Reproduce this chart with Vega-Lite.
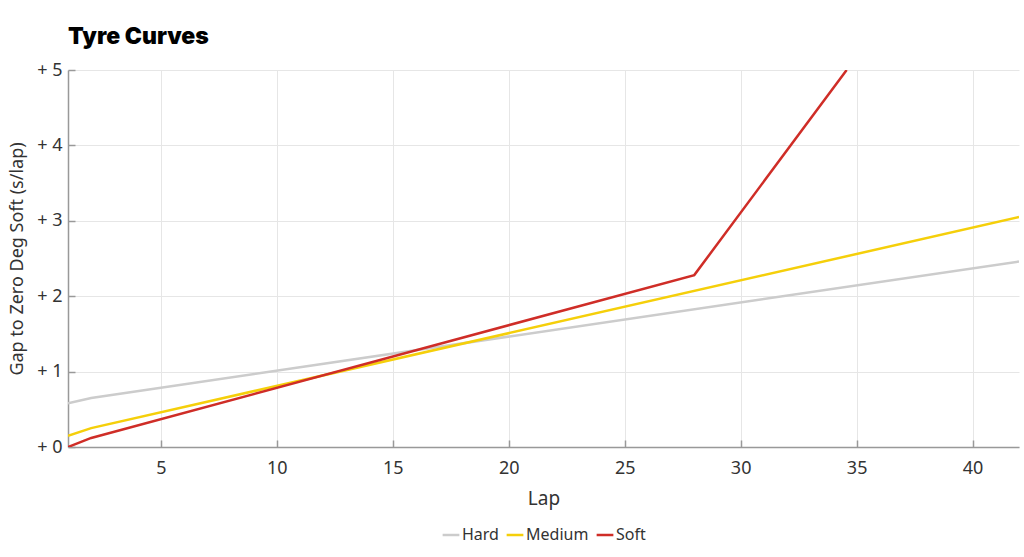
{
  "$schema": "https://vega.github.io/schema/vega-lite/v6.json",
  "autosize": "none",
  "width": 951,
  "height": 377,
  "padding": {"left": 68, "top": 70, "right": 5, "bottom": 110},
  "background": "white",
  "title": {
    "text": "Tyre Curves",
    "anchor": "start",
    "frame": "group",
    "font": "Inter",
    "fontSize": 23,
    "fontWeight": 900,
    "color": "#000000",
    "offset": 12
  },
  "data": {
    "values": [
      {"lap": 1, "gap": 0.58, "tyre": "Hard"},
      {"lap": 2, "gap": 0.65, "tyre": "Hard"},
      {"lap": 42, "gap": 2.46, "tyre": "Hard"},
      {"lap": 1, "gap": 0.15, "tyre": "Medium"},
      {"lap": 2, "gap": 0.25, "tyre": "Medium"},
      {"lap": 42, "gap": 3.05, "tyre": "Medium"},
      {"lap": 1, "gap": 0.0, "tyre": "Soft"},
      {"lap": 2, "gap": 0.12, "tyre": "Soft"},
      {"lap": 28, "gap": 2.28, "tyre": "Soft"},
      {"lap": 34.57, "gap": 5.0, "tyre": "Soft"}
    ]
  },
  "mark": {"type": "line", "strokeWidth": 2.5, "clip": true},
  "encoding": {
    "x": {
      "field": "lap",
      "type": "quantitative",
      "title": "Lap",
      "scale": {"domain": [1, 42], "nice": false, "zero": false},
      "axis": {
        "values": [5, 10, 15, 20, 25, 30, 35, 40],
        "tickSize": -7,
        "labelFontSize": 18,
        "titleFontSize": 19,
        "labelPadding": 19,
        "titlePadding": 12
      }
    },
    "y": {
      "field": "gap",
      "type": "quantitative",
      "title": "Gap to Zero Deg Soft (s/lap)",
      "scale": {"domain": [0, 5], "nice": false},
      "axis": {
        "values": [0, 1, 2, 3, 4, 5],
        "labelExpr": "'+ ' + datum.value",
        "tickSize": -7,
        "labelFontSize": 18,
        "titleFontSize": 18,
        "labelPadding": 13,
        "titlePadding": 10
      }
    },
    "color": {
      "field": "tyre",
      "type": "nominal",
      "title": null,
      "scale": {
        "domain": ["Hard", "Medium", "Soft"],
        "range": ["#cccccc", "#f5cf0a", "#cf2d27"]
      },
      "legend": {
        "orient": "none",
        "legendX": 373,
        "legendY": 455,
        "direction": "horizontal",
        "symbolType": "stroke",
        "symbolStrokeWidth": 2.5,
        "symbolSize": 280,
        "labelFontSize": 16,
        "labelFont": "Noto Sans",
        "labelColor": "#333333",
        "columnPadding": 2,
        "labelOffset": 1
      }
    }
  },
  "config": {
    "view": {"stroke": null},
    "axis": {
      "labelFont": "Noto Sans",
      "titleFont": "Noto Sans",
      "titleFontWeight": "normal",
      "labelColor": "#333333",
      "titleColor": "#333333",
      "domainColor": "#999999",
      "domainWidth": 1.5,
      "tickColor": "#999999",
      "tickWidth": 1.5,
      "gridColor": "#e6e6e6",
      "grid": true
    }
  }
}
